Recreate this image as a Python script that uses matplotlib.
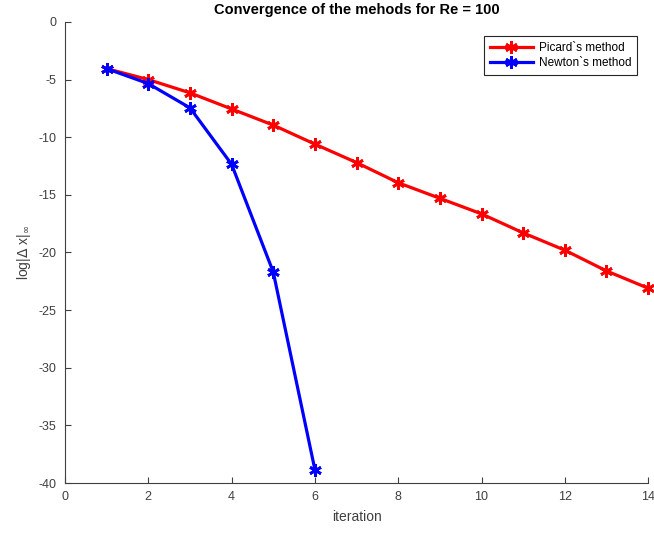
import numpy as np
import matplotlib.pyplot as plt

plt.rcParams['font.family'] = ['Liberation Sans', 'DejaVu Sans']
plt.rcParams['axes.unicode_minus'] = False

# iteration index and log of max update norm
picard_iter = [1, 2, 3, 4, 5, 6, 7, 8, 9, 10, 11, 12, 13, 14]
picard_err = [-4.05, -5.0, -6.15, -7.55, -8.95, -10.6, -12.2, -13.95,
              -15.3, -16.65, -18.3, -19.8, -21.6, -23.1]
newton_iter = [1, 2, 3, 4, 5, 6]
newton_err = [-4.05, -5.35, -7.45, -12.35, -21.7, -38.85]

fig = plt.figure(figsize=(6.54, 5.33), dpi=100)
ax = fig.add_axes([0.0994, 0.0938, 0.8916, 0.865])

ax.plot(picard_iter, picard_err, color='#ff0000', lw=2.3,
        marker=(6, 2, 0), ms=9, mew=2, label="Picard`s method", clip_on=False)
ax.plot(newton_iter, newton_err, color='#0000ff', lw=2.3,
        marker=(6, 2, 0), ms=9, mew=2, label="Newton`s method", clip_on=False)

ax.set_xlim(0, 14)
ax.set_ylim(-40, 0)
ax.set_xticks(np.arange(0, 15, 2))
ax.set_yticks(np.arange(-40, 1, 5))
ax.tick_params(direction='in', labelsize=9, colors='#404040',
               length=4, width=0.8, pad=6)
ax.spines['top'].set_visible(False)
ax.spines['right'].set_visible(False)
for s in ('left', 'bottom'):
    ax.spines[s].set_edgecolor('#404040')
    ax.spines[s].set_linewidth(0.8)

ax.set_xlabel('iteration', fontsize=10, color='#404040', labelpad=5)
ax.set_ylabel(r'log|$\Delta$ x|$_{\infty}$', fontsize=10, color='#404040',
              labelpad=4)
ax.set_title('Convergence of the mehods for Re = 100', fontsize=10.5,
             fontweight='bold', pad=6)

leg = ax.legend(loc='upper right', fontsize=8.5, fancybox=False,
                framealpha=1, edgecolor='#262626', handlelength=3.6,
                handletextpad=0.5, bbox_to_anchor=(0.981, 0.970),
                borderaxespad=0.0, borderpad=0.5, labelspacing=0.3)
leg.get_frame().set_linewidth(0.8)

plt.savefig('out.png', dpi=100)
